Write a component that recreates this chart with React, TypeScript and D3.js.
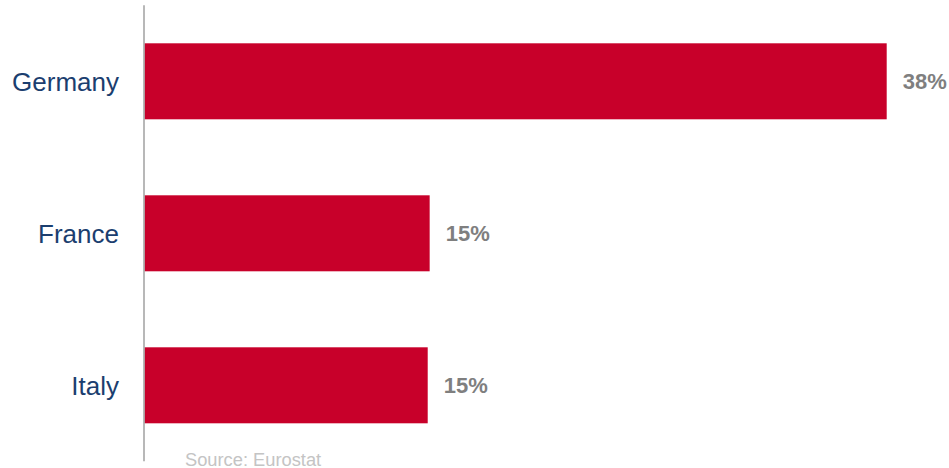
import React from "react";
import * as d3 from "d3";

const categories = ["Germany", "France", "Italy"];
const values = [38.0, 14.6, 14.5];
const valueLabels = ["38%", "15%", "15%"];
const sourceText = "Source: Eurostat";

const W = 949;
const H = 468;

export default function App() {
  const x = d3.scaleLinear().domain([0, 38]).range([144.5, 886.7]);
  const y = d3
    .scaleBand<string>()
    .domain(categories)
    .range([5.3, 461.3])
    .paddingInner(0.5)
    .paddingOuter(0.25);
  const font = "Arial, 'Liberation Sans', sans-serif";
  return (
    <svg
      width={W}
      height={H}
      style={{ position: "absolute", left: 0, top: 0, background: "#fff" }}
    >
      {categories.map((c, i) => {
        const yc = (y(c) as number) + y.bandwidth() / 2;
        return (
          <g key={c}>
            <rect
              x={x(0)}
              y={y(c)}
              width={x(values[i]) - x(0)}
              height={y.bandwidth()}
              fill="#C8002A"
            />
            <text
              x={119}
              y={yc}
              dy="0.36em"
              textAnchor="end"
              fontFamily={font}
              fontSize={26}
              fill="#1B3E6F"
            >
              {c}
            </text>
            <text
              x={x(values[i]) + 16}
              y={yc}
              dy="0.36em"
              fontFamily={font}
              fontSize={22}
              fontWeight="bold"
              fill="#7F7F7F"
            >
              {valueLabels[i]}
            </text>
          </g>
        );
      })}
      <line
        x1={144}
        x2={144}
        y1={y.range()[0]}
        y2={y.range()[1]}
        stroke="#A0A0A0"
        strokeWidth={1.5}
      />
      <text
        x={185}
        y={465.5}
        fontFamily={font}
        fontSize={18.3}
        fill="#C4C4C4"
      >
        {sourceText}
      </text>
    </svg>
  );
}
